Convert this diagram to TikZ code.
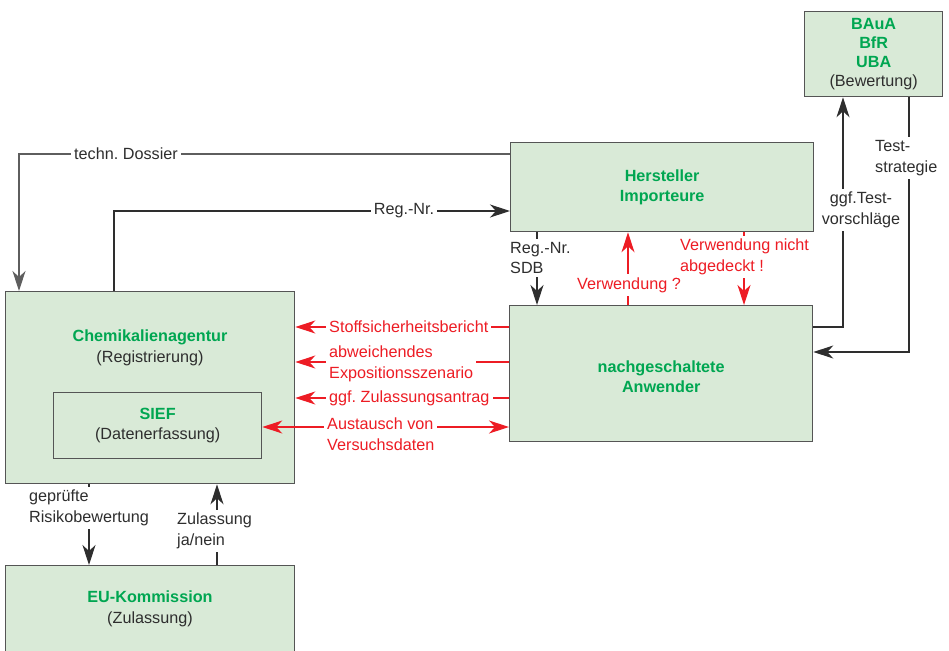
\documentclass[tikz,border=0pt]{standalone}
\usepackage{fontspec}
\setmainfont{Liberation Sans}
\usetikzlibrary{arrows.meta}
\definecolor{boxfill}{HTML}{D9EAD7}
\definecolor{boxline}{HTML}{555555}
\definecolor{grn}{HTML}{00A651}
\definecolor{rd}{HTML}{ED1C24}
\definecolor{txt}{HTML}{2E2E2E}
\definecolor{gline}{HTML}{5E5E5E}
\frenchspacing
\begin{document}
\begin{tikzpicture}[x=1pt,y=-1pt,
  font=\fontsize{16.2}{20.5}\selectfont\frenchspacing,
  box/.style={draw=boxline, fill=boxfill, line width=1.3pt, inner sep=0pt, anchor=north west},
  boxtext/.style={align=center, text=txt, inner sep=0pt},
  tip/.tip={Stealth[length=20pt,width=13pt,inset=6pt]},
  conn/.style={line width=1.2pt, draw=txt, -tip},
  rconn/.style={conn, draw=rd},
  lbl/.style={fill=white, text=txt, inner sep=3pt, align=center},
  rlbl/.style={lbl, text=rd}]
\useasboundingbox (0,0) rectangle (949,650);

% boxes
\node[box, minimum width=138pt, minimum height=85pt] (bau) at (804,11) {};
\node[box, minimum width=303pt, minimum height=89pt] (her) at (510,142) {};
\node[box, minimum width=289pt, minimum height=192pt] (chem) at (5,291) {};
\node[box, minimum width=208pt, minimum height=66pt] (sief) at (53,392) {};
\node[box, minimum width=303pt, minimum height=136pt] (nach) at (509,305) {};
\node[box, minimum width=289pt, minimum height=88pt] (eu) at (5,565) {};

% box texts
\node[boxtext, font=\fontsize{16.2}{19}\selectfont] (baut) at (bau.center) {\textcolor{grn}{\bfseries BAuA}\\\textcolor{grn}{\bfseries BfR}\\\textcolor{grn}{\bfseries UBA}\\(Bewertung)};
\node[boxtext] (hert) at (her.center) {\textcolor{grn}{\bfseries Hersteller}\\\textcolor{grn}{\bfseries Importeure}};
\node[boxtext] (chemt) at (150,348) {\textcolor{grn}{\bfseries Chemikalienagentur}\\(Registrierung)};
\node[boxtext] (sieft) at (sief.center) {\textcolor{grn}{\bfseries SIEF}\\(Datenerfassung)};
\node[boxtext] (nacht) at ([yshift=-3pt]nach.center) {\textcolor{grn}{\bfseries nachgeschaltete}\\\textcolor{grn}{\bfseries Anwender}};
\node[boxtext] (eut) at (150,609) {\textcolor{grn}{\bfseries EU-Kommission}\\(Zulassung)};

% black connectors
\draw[conn, draw=gline] ([yshift=-12pt]her.north west) -| ([xshift=14pt]chem.north west);
\node[lbl] (l1) at (126,154) {techn. Dossier};

\draw[conn] ([xshift=109pt]chem.north west) |- ([yshift=-69pt]her.north west);
\node[lbl] (l2) at (404,211) {Reg.-Nr.};

\draw[conn] ([xshift=27pt]her.south west) -- ([xshift=28pt]nach.north west);
\node[lbl, anchor=west, align=left] (l3) at (507,258) {Reg.-Nr.\\SDB};

\draw[conn] ([yshift=-22pt]nach.north east) -| ([xshift=39pt]bau.south west);
\node[lbl] (l6) at (861,210) {ggf.Test-\\vorschläge};

\draw[conn] ([xshift=105pt]bau.south west) |- ([yshift=-47pt]nach.north east);
\node[lbl, anchor=west, align=left] (l7) at (872,158) {Test-\\strategie};

\draw[conn] ([xshift=84pt]chem.south west) -- ([xshift=84pt]eu.north west);
\node[lbl, anchor=west, align=left] (l12) at (26,508) {geprüfte\\Risikobewertung};

\draw[conn] ([xshift=212pt]eu.north west) -- ([xshift=212pt]chem.south west);
\node[lbl, anchor=west, align=left] (l13) at (174,531) {Zulassung\\ja/nein};

% red connectors
\draw[rconn] ([xshift=119pt]nach.north west) -- ([xshift=118pt]her.south west);
\node[rlbl] (l4) at (629,285) {Verwendung ?};

\draw[rconn] ([xshift=234pt]her.south west) -- ([xshift=235pt]nach.north west);
\node[rlbl, anchor=west, align=left] (l5) at (677,257) {Verwendung nicht\\abgedeckt !};

\draw[rconn] ([yshift=-22pt]nach.north west) -- ([yshift=-36pt]chem.north east);
\node[rlbl, anchor=west] (l8) at (326,327) {Stoffsicherheitsbericht};

\draw[rconn] ([yshift=-57pt]nach.north west) -- ([yshift=-71pt]chem.north east);
\node[rlbl, anchor=west, align=left] (l9) at (326,364) {abweichendes\\Expositionsszenario};

\draw[rconn] ([yshift=-93pt]nach.north west) -- ([yshift=-107pt]chem.north east);
\node[rlbl, anchor=west] (l10) at (326,398) {ggf. Zulassungsantrag};

\draw[rconn, tip-tip] ([yshift=-35pt]sief.north east) -- ([yshift=-122pt]nach.north west);
\node[rlbl, anchor=west, align=left, inner ysep=1pt] (l11) at (324,434) {Austausch von\\Versuchsdaten};
\end{tikzpicture}
\end{document}
